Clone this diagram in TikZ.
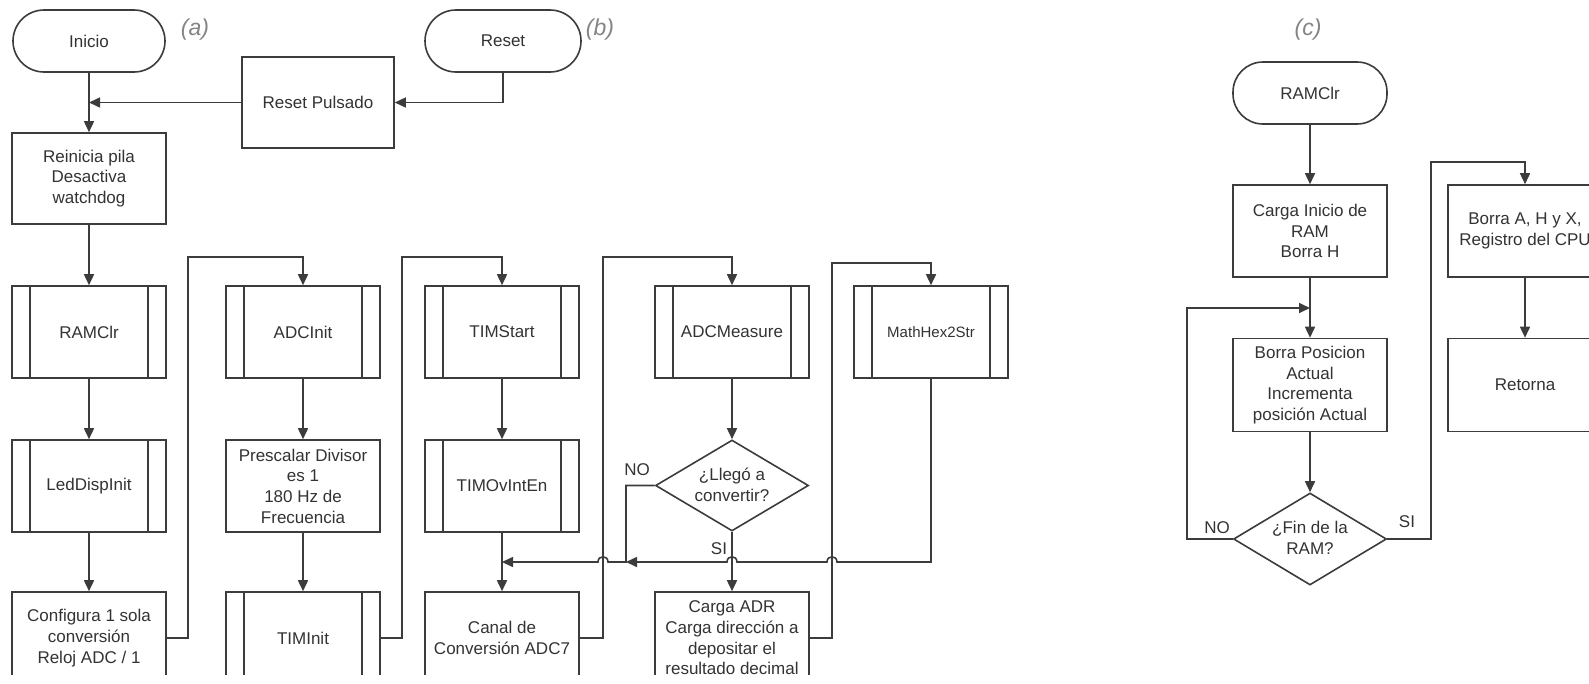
\documentclass[tikz,border=0pt]{standalone}
\usepackage{fontspec}
\setmainfont{Liberation Sans}
\usetikzlibrary{arrows.meta,shapes.geometric}
\definecolor{lncol}{HTML}{3C3C3C}
\definecolor{txcol}{HTML}{333333}
\definecolor{labcol}{HTML}{858585}
\begin{document}
\begin{tikzpicture}[x=1pt,y=-1pt,
  every node/.style={font=\fontsize{17pt}{20.7pt}\selectfont, text=txcol},
  box/.style={draw=lncol, line width=1.6pt, rectangle, inner sep=0pt, align=center, minimum width=154pt, minimum height=92pt},
  term/.style={box},
  dia/.style={draw=lncol, line width=1.6pt, diamond, inner sep=0pt, minimum width=153pt, minimum height=91pt},
  plain/.style={align=center, inner sep=0pt},
  lbl/.style={font=\fontsize{23pt}{26pt}\selectfont\itshape, text=labcol, inner sep=0pt},
  arr/.style={draw=lncol, line width=1.6pt, -{Triangle[length=11pt,width=10pt]}},
  wire/.style={draw=lncol, line width=1.6pt}]
\useasboundingbox (0,0) rectangle (1589,683);
\fill[white] (0,0) rectangle (1589,683);
\begin{scope}
\clip (0,0) rectangle (1589,674);

% ---- (a) / (b)
\node[term, minimum width=152pt, minimum height=62pt, rounded corners=31pt] (inicio) at (89,41) {Inicio};
\node[lbl] (la) at (195,30) {(a)};
\node[term, minimum width=156pt, minimum height=62pt, rounded corners=31pt] (reset) at (503,41) {Reset};
\node[lbl] (lb) at (600,30) {(b)};
\node[box, minimum width=152pt, minimum height=91pt] (resetp) at (318,102.5) {Reset Pulsado};
\node[box, minimum height=91pt] (reinicia) at (89,178.5) {Reinicia pila\\Desactiva\\watchdog};

\node[box] (ramclr) at (89,332) {RAMClr};
\node[box] (leddisp) at (89,486) {LedDispInit};
\node[box] (config) at (89,638) {Configura 1 sola\\conversión\\Reloj ADC / 1};
\node[box] (adcinit) at (303,332) {ADCInit};
\node[box] (presc) at (303,486) {Prescalar Divisor\\es 1\\180 Hz de\\Frecuencia};
\node[box] (timinit) at (303,638) {TIMInit};
\node[box] (timstart) at (502,332) {TIMStart};
\node[box] (timov) at (502,486) {TIMOvIntEn};
\node[box] (canal) at (502,638) {Canal de\\Conversión ADC7};
\node[box] (adcm) at (732,332) {ADCMeasure};
\node[dia] (d1) at (732,485.5) {};
\node[plain] (d1t) at (732,485) {¿Llegó a\\convertir?};
\node[box] (carga) at (732,638) {Carga ADR\\Carga dirección a\\depositar el\\resultado decimal};
\node[box, font=\fontsize{15pt}{18pt}\selectfont] (mathhex) at (931,332) {MathHex2Str};
\node[plain] (no1) at (637,470) {NO};
\node[plain] (si1) at (719,549) {SI};

\foreach \n in {ramclr,leddisp,adcinit,timinit,timstart,timov,adcm,mathhex}{
  \draw[wire] ([xshift=19pt]\n.north west) -- ([xshift=19pt]\n.south west);
  \draw[wire] ([xshift=-19pt]\n.north east) -- ([xshift=-19pt]\n.south east);
}

\coordinate (j0) at (89,102.5);
\draw[arr] (inicio) -- (reinicia);
\draw[arr] (reset.south) |- (resetp.east);
\draw[arr] (resetp.west) -- (j0);
\draw[arr] (reinicia) -- (ramclr);
\draw[arr] (ramclr) -- (leddisp);
\draw[arr] (leddisp) -- (config);
\draw[arr] (adcinit) -- (presc);
\draw[arr] (presc) -- (timinit);
\draw[arr] (timstart) -- (timov);
\draw[arr] (timov) -- (canal);
\draw[arr] (adcm) -- (d1);
\draw[arr] (d1) -- (carga);

\coordinate (c1) at (188,257);
\coordinate (c2) at (402,257);
\coordinate (c3) at (603,257);
\coordinate (c4) at (832,263);
\draw[arr] (config.east) -| (c1) -| (adcinit.north);
\draw[arr] (timinit.east) -| (c2) -| (timstart.north);
\draw[arr] (canal.east) -| (c3) -| (adcm.north);
\draw[arr] (carga.east) -| (c4) -| (mathhex.north);

\coordinate (m1) at (626,562);
\coordinate (m0) at (502,562);
\draw[arr] (d1.west) -| (m1) -- (608,562) .. controls (608,555) and (598,555) .. (598,562) -- (m0);
\draw[arr] (mathhex.south) |- (837,562) .. controls (837,555) and (827,555) .. (827,562) -- (737,562) .. controls (737,555) and (727,555) .. (727,562) -- (m1);

% ---- (c)
\node[lbl] (lc) at (1308,30) {(c)};
\node[term, minimum height=62pt, rounded corners=30pt] (ramclr2) at (1310,93) {RAMClr};
\node[box] (cargaini) at (1310,231) {Carga Inicio de\\RAM\\Borra H};
\node[box, minimum height=93pt] (borrapos) at (1310,385) {Borra Posicion\\Actual\\Incrementa\\posición Actual};
\node[dia, minimum height=92pt] (d2) at (1310,539) {};
\node[plain] (d2t) at (1310,538) {¿Fin de la\\RAM?};
\node[box] (borraa) at (1525,231) {Borra A, H y X,\\Registro del CPU};
\node[box, minimum height=93pt] (retorna) at (1525,385) {Retorna};
\node[plain] (no2) at (1217,528) {NO};
\node[plain] (si2) at (1407,522) {SI};

\coordinate (r0) at (1187,308);
\coordinate (r1) at (1310,308);
\coordinate (r2) at (1431,162);
\draw[arr] (ramclr2) -- (cargaini);
\draw[arr] (cargaini) -- (borrapos);
\draw[arr] (borrapos) -- (d2);
\draw[arr] (d2.west) -| (r0) -- (r1);
\draw[arr] (d2.east) -| (r2) -| (borraa.north);
\draw[arr] (borraa) -- (retorna);
\end{scope}
\end{tikzpicture}
\end{document}
